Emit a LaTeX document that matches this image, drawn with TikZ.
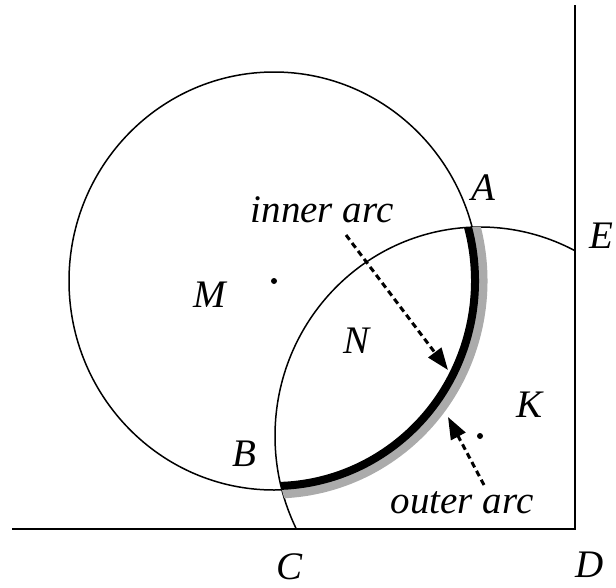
\documentclass[tikz,border=0pt]{standalone}
\usepackage{fontspec}
\setmainfont{Liberation Serif}
\usetikzlibrary{arrows.meta}
\begin{document}
\begin{tikzpicture}[x=1pt,y=-1pt,
  thinline/.style={line width=1.5pt},
  lbl/.style={font=\fontsize{39}{42}\selectfont\itshape, inner sep=0pt, anchor=base},
  pointer/.style={line width=3pt, dash pattern=on 6pt off 4pt,
    -{Triangle[length=22pt,width=16pt]}},
  ctrdot/.style={circle, fill=black, inner sep=0pt, minimum size=6pt}]
\useasboundingbox (0,0) rectangle (616,587);
% centres and frame corners
\coordinate (Mc) at (274,281);
\coordinate (Kc) at (480,436);
\coordinate (Dc) at (575,529);
\coordinate (Top) at (575,5);
\coordinate (Left) at (12,529);
% frame
\draw[thinline] (Top) -- (Dc) -- (Left);
% circle M
\draw[thinline] (Mc) circle[x radius=205, y radius=209];
% circle K, only inside the frame
\begin{scope}
  \clip (0,0) rectangle (Dc);
  \draw[thinline] (Kc) circle[x radius=205, y radius=209];
\end{scope}
% inner and outer arcs, inside circle K
\begin{scope}
  \clip (Kc) circle[x radius=205, y radius=209];
  \draw[line width=9pt, black!33] (Mc) ++(-35:209 and 213)
    arc[start angle=-35, end angle=105, x radius=209, y radius=213];
  \draw[line width=8pt, black] (Mc) ++(-35:201 and 205)
    arc[start angle=-35, end angle=105, x radius=201, y radius=205];
\end{scope}
% centre dots
\node[ctrdot] (mdot) at (Mc) {};
\node[ctrdot] (kdot) at (Kc) {};
% labels
\node[lbl] (A) at (483,200) {A};
\node[lbl] (B) at (244,466) {B};
\node[lbl] (C) at (290,579) {C};
\node[lbl] (D) at (590,577) {D};
\node[lbl, anchor=base west] (E) at (589,248) {E};
\node[lbl] (K) at (530,417) {K};
\node[lbl] (M) at (210,307) {M};
\node[lbl] (N) at (357,353) {N};
\node[lbl] (inner) at (322,222) {inner arc};
\node[lbl] (outer) at (462,513) {outer arc};
% pointers
\coordinate (inS) at (346,235);
\coordinate (inT) at (448,370);
\coordinate (outS) at (484,485);
\coordinate (outT) at (448,417);
\draw[pointer] (inS) -- (inT);
\draw[pointer] (outS) -- (outT);
\end{tikzpicture}
\end{document}
